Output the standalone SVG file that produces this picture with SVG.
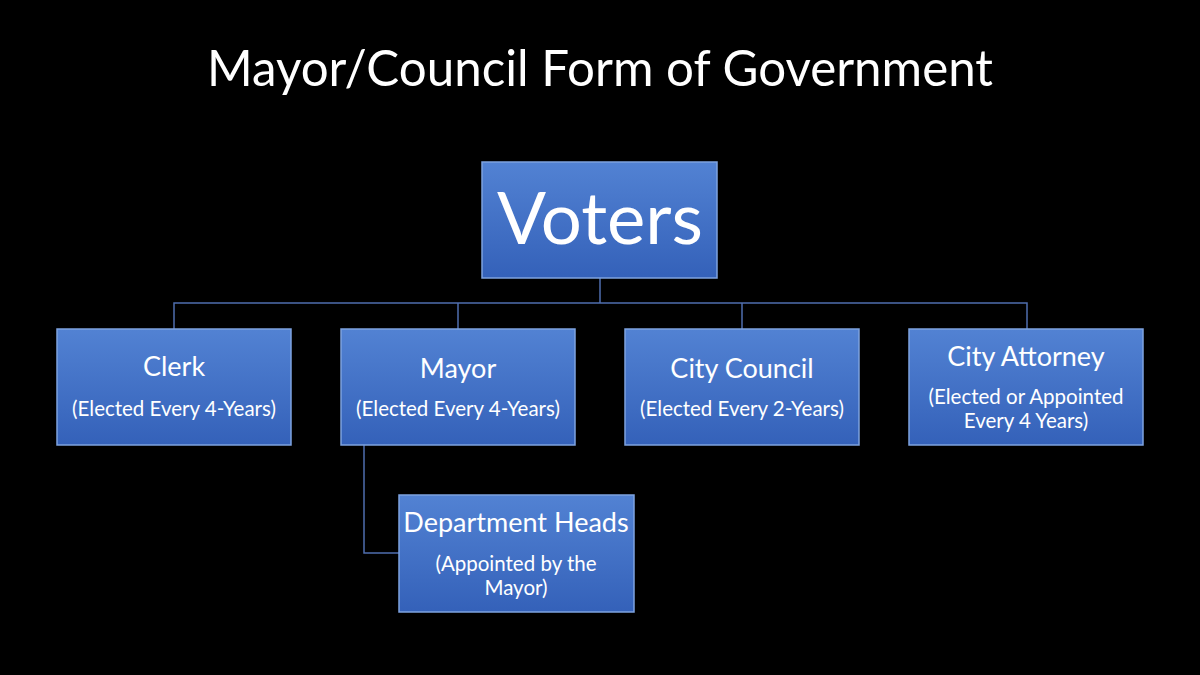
<svg xmlns="http://www.w3.org/2000/svg" width="1200" height="675" viewBox="0 0 1200 675">
<defs>
<linearGradient id="g" x1="0" y1="0" x2="0" y2="1">
<stop offset="0" stop-color="#5282d3"/>
<stop offset="1" stop-color="#3461b9"/>
</linearGradient>
<style>
.box{fill:url(#g);stroke:#7ea3e0;stroke-width:1.5}
.t{fill:#ffffff;font-family:Lato,"Open Sans",sans-serif;text-anchor:middle}
.h{font-size:27px}
.s{font-size:20.5px}
.c{stroke:#4f6eae;stroke-width:1.5;fill:none}
</style>
</defs>
<rect width="1200" height="675" fill="#000"/>
<text class="t" x="600" y="86" font-size="50" textLength="786" lengthAdjust="spacingAndGlyphs">Mayor/Council Form of Government</text>
<g id="connectors">
<path class="c" d="M600 278V303M174 329V303H1027V329M458 303V329M742 303V329"/>
<path class="c" d="M364 445V553H399"/>
</g>
<g id="voters">
<rect class="box" x="482" y="162" width="235" height="116"/>
<text class="t" x="600" y="244" font-size="72" textLength="206" lengthAdjust="spacingAndGlyphs">Voters</text>
</g>
<g id="clerk">
<rect class="box" x="57" y="329" width="234" height="116"/>
<text class="t h" x="174" y="376">Clerk</text>
<text class="t s" x="174" y="416">(Elected Every 4-Years)</text>
</g>
<g id="mayor">
<rect class="box" x="341" y="329" width="234" height="116"/>
<text class="t h" x="458" y="378">Mayor</text>
<text class="t s" x="458" y="416">(Elected Every 4-Years)</text>
</g>
<g id="council">
<rect class="box" x="625" y="329" width="234" height="116"/>
<text class="t h" x="742" y="378">City Council</text>
<text class="t s" x="742" y="416">(Elected Every 2-Years)</text>
</g>
<g id="attorney">
<rect class="box" x="909" y="329" width="234" height="116"/>
<text class="t h" x="1026" y="366">City Attorney</text>
<text class="t s" x="1026" y="404">(Elected or Appointed</text>
<text class="t s" x="1026" y="428">Every 4 Years)</text>
</g>
<g id="depthead">
<rect class="box" x="399" y="495" width="235" height="117"/>
<text class="t h" x="516" y="532">Department Heads</text>
<text class="t s" x="516" y="571">(Appointed by the</text>
<text class="t s" x="516" y="595">Mayor)</text>
</g>
</svg>
